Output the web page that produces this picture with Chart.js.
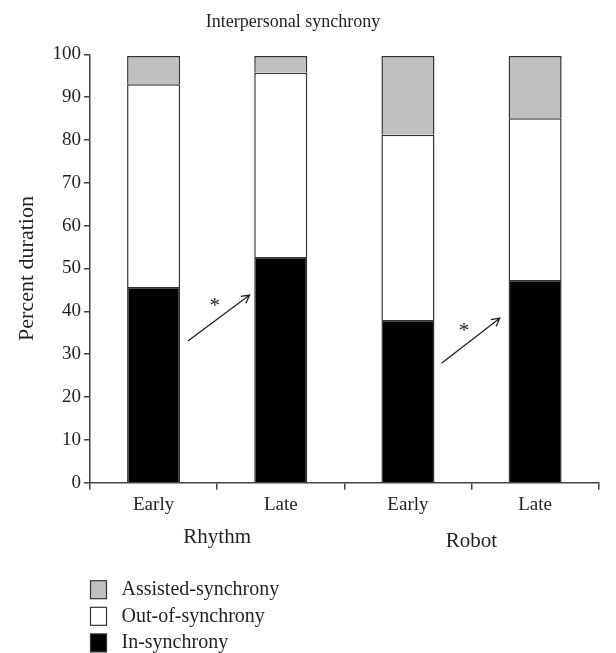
<!DOCTYPE html>
<html>
<head>
<meta charset="utf-8">
<script src="https://cdn.jsdelivr.net/npm/chart.js@4"></script>
<style>
  body { margin: 0; background: #fff; }
  #wrap { position: relative; width: 616px; height: 653px; }
</style>
</head>
<body>
<div id="wrap"><canvas id="syncChart"></canvas></div>
<script>
// chart values
const categories = ['Early', 'Late', 'Early', 'Late'];
const groups = ['Rhythm', 'Robot']; // each group covers two categories
const inSync = [45.7, 52.7, 38.0, 47.3];
const outSync = [47.3, 43.0, 43.2, 37.8];
const assistedSync = [6.6, 3.9, 18.4, 14.5];

// significance arrows, in category index / percent units
const arrowFrom = [[0.27, 33.1], [2.264, 27.9]];
const arrowTo = [[0.755, 43.8], [2.722, 38.4]];
const starAt = [[0.48, 42.1], [2.44, 36.3]];

const serif = "'Liberation Serif', 'Times New Roman', serif";
const ink = '#231f20';

// titles, group labels, arrows and the boxed legend
const extrasPlugin = {
    id: 'extras',
    afterDraw(chart) {
        const ctx = chart.ctx;
        const x = chart.scales.x;
        const y = chart.scales.y;
        const area = chart.chartArea;
        ctx.save();
        ctx.fillStyle = ink;
        ctx.strokeStyle = ink;

        // top title
        ctx.font = '18px ' + serif;
        ctx.textAlign = 'center';
        ctx.textBaseline = 'alphabetic';
        ctx.fillText('Interpersonal synchrony', 293, 26.5);

        // y axis title
        ctx.save();
        ctx.font = '22px ' + serif;
        ctx.translate(33, (area.top + area.bottom) / 2);
        ctx.rotate(-Math.PI / 2);
        ctx.fillText('Percent duration', 0, 0);
        ctx.restore();

        // group labels under the category labels
        ctx.font = '21px ' + serif;
        groups.forEach((g, i) => {
            const gx = (x.getPixelForValue(i * 2) + x.getPixelForValue(i * 2 + 1)) / 2;
            ctx.fillText(g, gx, area.bottom + 60.5 + i * 4);
        });

        // arrows
        ctx.lineWidth = 1.3;
        arrowFrom.forEach((a, i) => {
            const x0 = x.getPixelForValue(a[0]), y0 = y.getPixelForValue(a[1]);
            const x1 = x.getPixelForValue(arrowTo[i][0]), y1 = y.getPixelForValue(arrowTo[i][1]);
            const ang = Math.atan2(y1 - y0, x1 - x0);
            const head = 9;
            ctx.beginPath();
            ctx.moveTo(x0, y0);
            ctx.lineTo(x1, y1);
            ctx.moveTo(x1 - head * Math.cos(ang - 0.5), y1 - head * Math.sin(ang - 0.5));
            ctx.lineTo(x1, y1);
            ctx.lineTo(x1 - head * Math.cos(ang + 0.5), y1 - head * Math.sin(ang + 0.5));
            ctx.stroke();

            ctx.font = '21px ' + serif;
            ctx.fillText('*', x.getPixelForValue(starAt[i][0]), y.getPixelForValue(starAt[i][1]) + 10);
        });

        // legend, top entry first
        const items = chart.data.datasets.slice().reverse();
        ctx.font = '20px ' + serif;
        ctx.textAlign = 'left';
        items.forEach((ds, i) => {
            const top = area.bottom + 98 + i * 26.6;
            ctx.fillStyle = ds.backgroundColor;
            ctx.fillRect(90.5, top, 16, 18);
            ctx.lineWidth = 1.2;
            ctx.strokeStyle = '#333';
            ctx.strokeRect(90.5, top, 16, 18);
            ctx.fillStyle = ink;
            ctx.fillText(ds.label, 121.5, top + 14.5);
        });
        ctx.restore();
    }
};

const ctx = document.getElementById('syncChart').getContext('2d');
new Chart(ctx, {
    type: 'bar',
    data: {
        labels: categories,
        datasets: [
            { label: 'In-synchrony', data: inSync, backgroundColor: '#000000', borderColor: '#333' },
            { label: 'Out-of-synchrony', data: outSync, backgroundColor: '#ffffff', borderColor: '#333' },
            { label: 'Assisted-synchrony', data: assistedSync, backgroundColor: '#c0c0c0', borderColor: '#333' }
        ]
    },
    options: {
        responsive: true,
        maintainAspectRatio: false,
        animation: false,
        datasets: {
            bar: { categoryPercentage: 1, barPercentage: 0.417, borderWidth: 1.5 }
        },
        layout: { padding: { left: 0, right: 17.3, top: 54.3, bottom: 130.3 } },
        plugins: {
            legend: { display: false },
            title: { display: false },
            tooltip: { enabled: false }
        },
        scales: {
            x: {
                stacked: true,
                afterFit: (scale) => { scale.height = 40; },
                grid: {
                    offset: true,
                    drawOnChartArea: false,
                    tickLength: 7,
                    color: '#444',
                    lineWidth: 1.5
                },
                border: { color: '#444', width: 1.5 },
                ticks: { color: ink, padding: 4, font: { family: serif, size: 19 } }
            },
            y: {
                stacked: true,
                min: 0,
                max: 100,
                afterFit: (scale) => { scale.width = 90; },
                grid: {
                    drawOnChartArea: false,
                    tickLength: 6,
                    color: '#444',
                    lineWidth: 1.5
                },
                border: { color: '#444', width: 1.5 },
                ticks: { stepSize: 10, color: ink, padding: 3, font: { family: serif, size: 19 } }
            }
        }
    },
    plugins: [extrasPlugin]
});
</script>
</body>
</html>
